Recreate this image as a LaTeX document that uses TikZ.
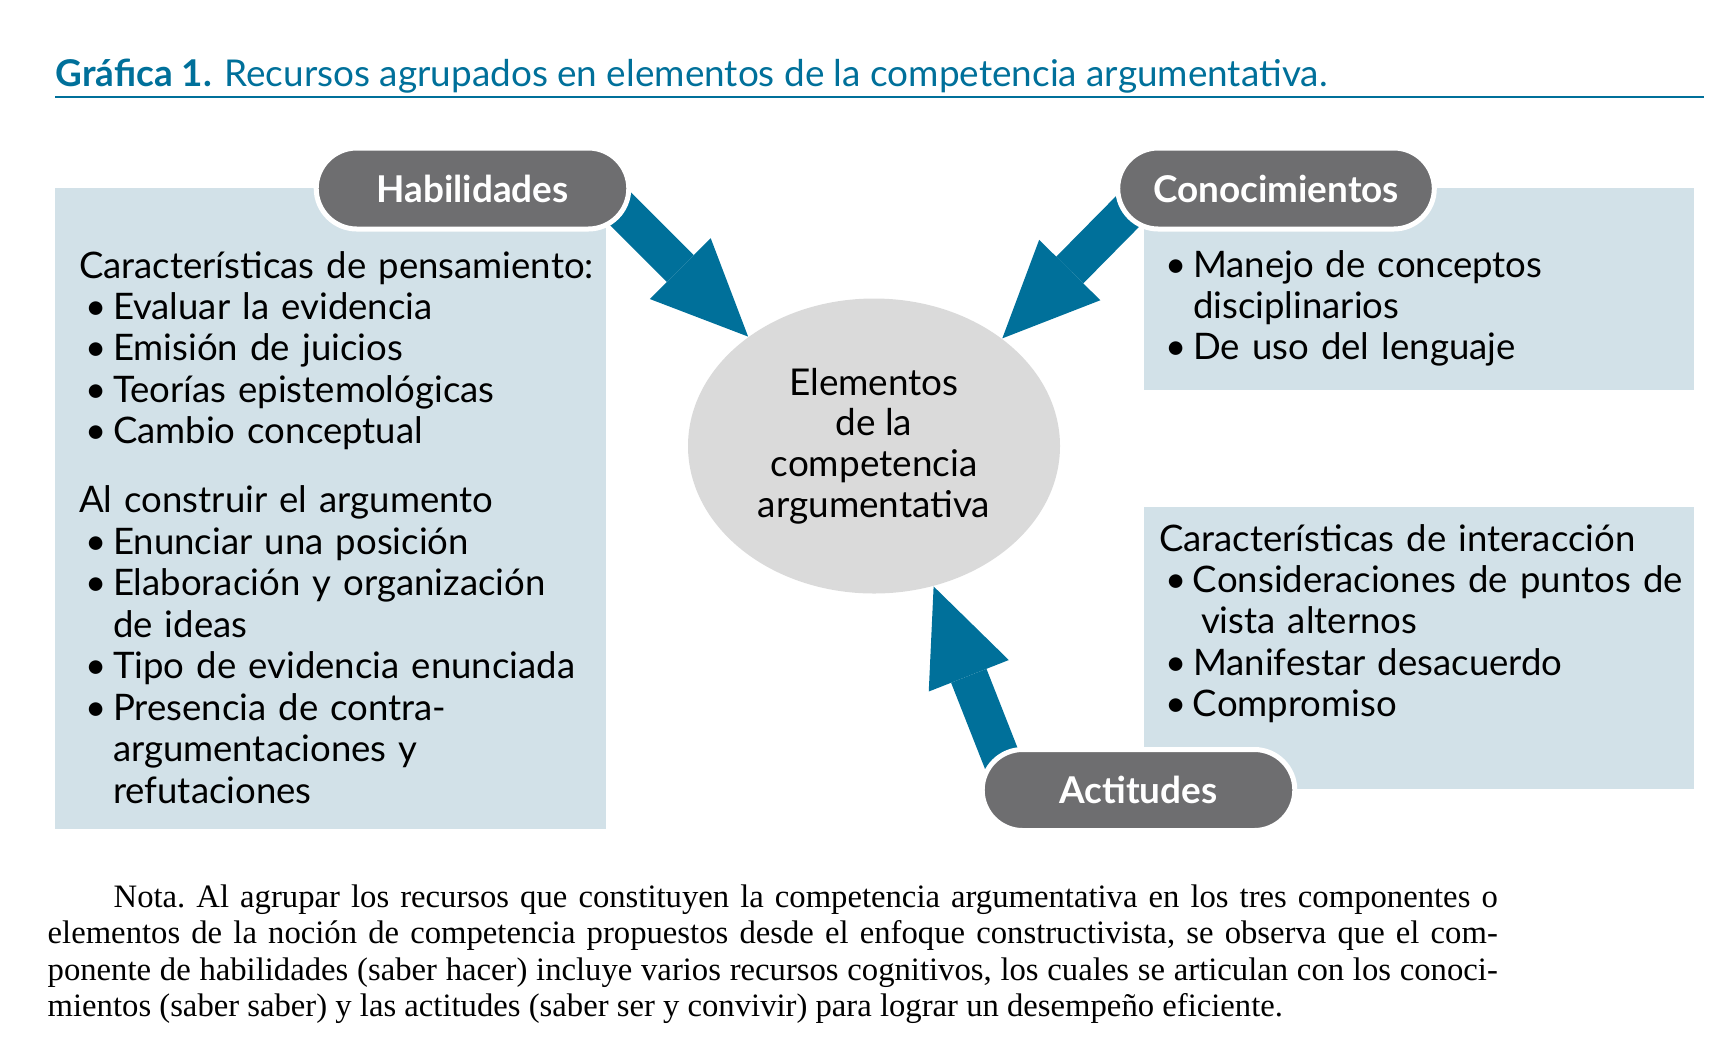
\documentclass[tikz,border=0pt]{standalone}
\usepackage{fontspec}
\setmainfont{Lato}
\newfontfamily\notafont{Liberation Serif}
\usetikzlibrary{arrows.meta,shapes.geometric,shapes.misc,backgrounds}
\definecolor{graficaBlue}{RGB}{0,112,154}
\definecolor{graficaLightBlue}{RGB}{210,225,232}
\definecolor{graficaGray}{RGB}{110,110,112}
\definecolor{graficaLightGray}{RGB}{218,218,218}
\newcommand{\bul}{\hspace*{0.06cm}\makebox[0.28cm][l]{\textbullet}}
\newcommand{\cont}{\hspace*{0.34cm}}

\begin{document}
\begin{tikzpicture}[
  box/.style={
    fill=graficaLightBlue,
    anchor=north west,
    inner sep=0pt,
    outer sep=0pt,
    align=left,
    font=\fontsize{10.4}{11.8}\selectfont
  },
  pad/.style={execute at begin node={\leftskip=#1\hyphenpenalty=10000}},
  pill/.style={
    rounded rectangle,
    fill=graficaGray,
    draw=white,
    line width=0.05cm,
    minimum width=3.36cm,
    minimum height=0.81cm,
    text=white,
    font=\fontsize{10.5}{12}\selectfont\bfseries
  },
  arrow/.style={
    draw=graficaBlue,
    line width=0.38cm,
    -{Triangle[length=0.96cm,width=0.86cm,line width=0pt]}
  }
]
  \useasboundingbox (0,0) rectangle (17.18,-10.5);
  % title and rule
  \node[anchor=base west,inner sep=0pt,text=graficaBlue,
    font=\fontsize{10.5}{12}\selectfont] (titulo) at (0.55,-0.86)
    {\textbf{Gráfica 1.} Recursos agrupados en elementos de la competencia argumentativa.};
  \draw[graficaBlue,line width=0.02cm] (0.55,-0.97) -- (17.04,-0.97);
  % boxes
  \node[box,pad=0.24cm,text width=5.51cm,text height=0.90cm,
    text depth=5.51cm] (habbox) at (0.55,-1.88)
    {Características de pensamiento:\\
     \bul Evaluar la evidencia\\
     \bul Emisión de juicios\\
     \bul Teorías epistemológicas\\
     \bul Cambio conceptual\\[7.8pt]
     Al construir el argumento\\
     \bul Enunciar una posición\\
     \bul Elaboración y organización\\
     \cont de ideas\\
     \bul Tipo de evidencia enunciada\\
     \bul Presencia de contra-\\
     \cont argumentaciones y\\
     \cont refutaciones};
  \node[box,pad=0.15cm,text width=5.50cm,text height=0.89cm,
    text depth=1.13cm] (conbox) at (11.44,-1.88)
    {\bul Manejo de conceptos\\
     \cont disciplinarios\\
     \bul De uso del lenguaje};
  \node[box,pad=0.15cm,text width=5.50cm,text height=0.44cm,
    text depth=2.38cm] (actbox) at (11.44,-5.07)
    {Características de interacción\\
     \bul Consideraciones de puntos de\\
     \cont\hspace*{0.08cm}vista alternos\\
     \bul Manifestar desacuerdo\\
     \bul Compromiso};
  % centre
  \node[ellipse,fill=graficaLightGray,minimum width=3.72cm,minimum height=2.95cm,
    inner sep=0pt,align=center,font=\fontsize{10.5}{11.6}\selectfont] (elem)
    at (8.74,-4.46) {Elementos\\de la\\competencia\\argumentativa};
  % headers
  \node[pill] (hab) at (4.725,-1.885) {Habilidades};
  \node[pill,minimum width=3.40cm] (con) at (12.76,-1.885) {Conocimientos};
  \node[pill] (act) at (11.385,-7.90) {Actitudes};
  % arrows
  \begin{scope}[on background layer]
    \draw[arrow] ([xshift=-0.31cm]hab.east) -- (elem.139);
    \draw[arrow] ([xshift=0.35cm]con.west) -- (elem.40);
    \draw[arrow] ([xshift=0.34cm]act.west) -- (elem.-67);
  \end{scope}
  % note
  \node[anchor=base west,inner sep=0pt,text width=14.5cm,align=justify,
    font=\notafont\fontsize{9.3}{10.4}\selectfont\frenchspacing] (nota)
    at (0.47,-9.07)
    {\hspace*{0.66cm}Nota. Al agrupar los recursos que constituyen la competencia
     argumentativa en los tres componentes o\linebreak elementos de la noción de
     competencia propuestos desde el enfoque constructivista, se observa que el
     com-\linebreak ponente de habilidades (saber hacer) incluye varios recursos
     cognitivos, los cuales se articulan con los conoci-\linebreak mientos (saber
     saber) y las actitudes (saber ser y convivir) para lograr un desempeño
     eficiente.};
\end{tikzpicture}
\end{document}
